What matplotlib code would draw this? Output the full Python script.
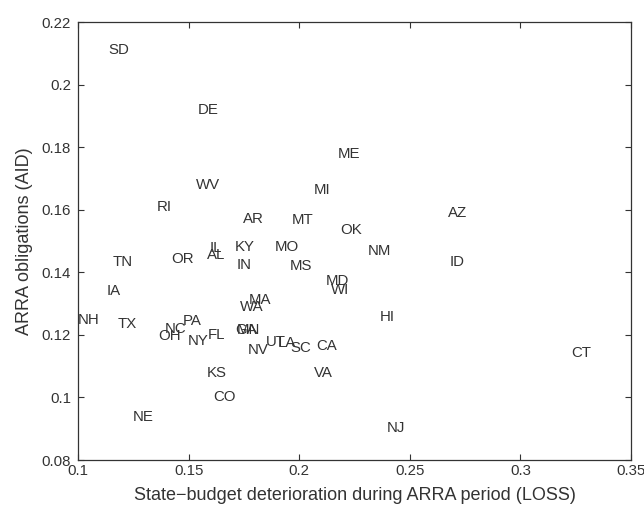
import matplotlib
matplotlib.use("Agg")
import matplotlib.pyplot as plt

# state labels with (LOSS, AID) values
states = ["SD", "DE", "ME", "MI", "WV", "RI", "AZ", "AR", "MT", "OK",
          "IL", "KY", "MO", "NM", "AL", "TN", "OR", "ID", "IN", "MS",
          "MD", "WI", "IA", "MA", "WA", "NH", "TX", "PA", "HI", "NC",
          "GA", "MN", "OH", "FL", "NY", "UT", "LA", "SC", "CA", "NV",
          "CT", "KS", "VA", "CO", "NE", "NJ"]
loss = [0.1136, 0.1543, 0.2176, 0.2067, 0.1534, 0.1357, 0.2674, 0.1747, 0.1968, 0.2186,
        0.1597, 0.1710, 0.1891, 0.2312, 0.1584, 0.1158, 0.1421, 0.2679, 0.1715, 0.1959,
        0.2122, 0.2145, 0.1131, 0.1770, 0.1733, 0.1000, 0.1181, 0.1475, 0.2362, 0.1394,
        0.1710, 0.1720, 0.1362, 0.1588, 0.1498, 0.1851, 0.1905, 0.1959, 0.2077, 0.1769,
        0.3231, 0.1584, 0.2068, 0.1611, 0.1249, 0.2394]
aid = [0.2110, 0.1919, 0.1778, 0.1663, 0.1679, 0.1609, 0.1590, 0.1570, 0.1567, 0.1535,
       0.1478, 0.1481, 0.1481, 0.1468, 0.1455, 0.1433, 0.1443, 0.1433, 0.1423, 0.1420,
       0.1372, 0.1343, 0.1340, 0.1312, 0.1289, 0.1248, 0.1235, 0.1245, 0.1257, 0.1219,
       0.1216, 0.1216, 0.1197, 0.1200, 0.1180, 0.1177, 0.1174, 0.1158, 0.1164, 0.1152,
       0.1142, 0.1078, 0.1078, 0.1002, 0.0938, 0.0903]

xticks = [0.1, 0.15, 0.2, 0.25, 0.3, 0.35]
yticks = [0.08, 0.1, 0.12, 0.14, 0.16, 0.18, 0.2, 0.22]

plt.rcParams['font.family'] = ['Liberation Sans', 'DejaVu Sans']

fig = plt.figure(figsize=(6.44, 5.14), dpi=100)
ax = fig.add_axes([0.121, 0.105, 0.859, 0.852])

# MATLAB-style text: left aligned, vertically centred on the point
for s, x, y in zip(states, loss, aid):
    ax.text(x, y, s, ha="left", va="center", fontsize=10.8, color="#333333")

ax.set_xlim(0.1, 0.35)
ax.set_ylim(0.08, 0.22)
ax.set_xticks(xticks)
ax.set_xticklabels(["0.1", "0.15", "0.2", "0.25", "0.3", "0.35"])
ax.set_yticks(yticks)
ax.set_yticklabels(["0.08", "0.1", "0.12", "0.14", "0.16", "0.18", "0.2", "0.22"])
ax.tick_params(direction="in", top=True, right=True, length=4, width=0.8,
               labelsize=10.8, colors="#333333")
ax.tick_params(axis="x", pad=3)
ax.tick_params(axis="y", pad=5)
for sp in ax.spines.values():
    sp.set_color("#333333")
    sp.set_linewidth(0.9)

ax.set_xlabel("State\u2212budget deterioration during ARRA period (LOSS)",
              fontsize=13, color="#333333", labelpad=6)
ax.set_ylabel("ARRA obligations (AID)", fontsize=13, color="#333333", labelpad=6)

fig.savefig("out.png", dpi=100)
